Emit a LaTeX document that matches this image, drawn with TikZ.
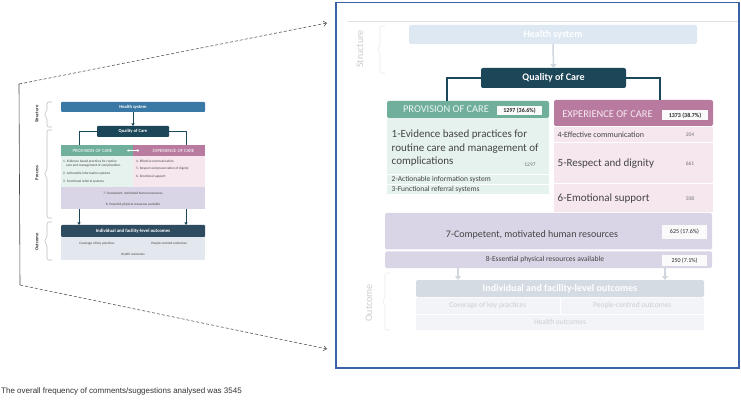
\documentclass[tikz,border=0pt]{standalone}
\usepackage{fontspec}
\setmainfont{Carlito}
\newfontfamily\notefont{Liberation Sans}
\usetikzlibrary{arrows.meta}
\definecolor{hsS}{HTML}{3A78A5}
\definecolor{qocD}{HTML}{1C4759}
\definecolor{provG}{HTML}{6FAF9B}
\definecolor{provL}{HTML}{E6F2EE}
\definecolor{expP}{HTML}{B97A9F}
\definecolor{expL}{HTML}{F6E7EF}
\definecolor{lav}{HTML}{D9D5E6}
\definecolor{outD}{HTML}{2F4B60}
\definecolor{outL}{HTML}{E3E7EE}
\definecolor{hsF}{HTML}{DDE8F2}
\definecolor{outF}{HTML}{D5DBE3}
\definecolor{rowF}{HTML}{F2F4F7}
\definecolor{txtF}{HTML}{C9CED6}
\definecolor{frameB}{HTML}{3B62A9}
\definecolor{txt}{HTML}{444444}
\newcommand\fsz[2]{\fontsize{#1}{#2}\selectfont}
\newcommand\bx[7]{\node[boxbase,#6,minimum width={(#4-#2)*1pt},minimum height={(#5-#3)*1pt}] (#1) at (#2,#3) {#7};}
\newcommand\brk[4]{\draw[#4,line width=0.6pt,rounded corners=2pt] ({#1+5},#2) -- (#1,#2) -- (#1,{(#2+#3)/2-3}) -- ({#1-3},{(#2+#3)/2}) -- (#1,{(#2+#3)/2+3}) -- (#1,#3) -- ({#1+5},#3);}
\begin{document}
\begin{tikzpicture}[x=1pt,y=-1pt,
  boxbase/.style={anchor=north west,inner sep=0pt,outer sep=0pt,align=center},
  zoomline/.style={densely dashed,draw=black!65,line width=0.6pt,-{Straight Barb[length=3pt,width=5pt]}},
  conS/.style={draw=qocD,line width=0.9pt},
  conB/.style={draw=qocD,line width=1.8pt},
  arrS/.style={draw=qocD,line width=0.9pt,-{Triangle[length=2.5pt,width=3pt]}},
  arrF/.style={draw=hsF!80!gray!90,line width=1.5pt,-{Triangle[length=4pt,width=6pt]}},
  cnt/.style={boxbase,fill=white!96!gray,text=black!85,font=\bfseries\fsz{6}{7}},
  smalltxt/.style={anchor=north west,inner sep=0pt,align=left,text=txt,font=\fsz{3.4}{4.3}},
]
\useasboundingbox (0,0) rectangle (741,403);
\fill[white] (0,0) rectangle (741,403);
% ---- zoom connectors
\coordinate (ftl) at (19,84);
\coordinate (fbl) at (20,285);
\coordinate (btl) at (327,23);
\coordinate (bbl) at (327,349);
\draw[black!70,line width=0.6pt] (ftl) -- (fbl);
\draw[zoomline] (ftl) -- (btl);
\draw[zoomline] (fbl) -- (bbl);
% ================= small diagram
\brk{47}{102}{127}{black!25}
\brk{47}{130}{218}{black!25}
\brk{47}{222}{260}{black!25}
\node[rotate=90,font=\bfseries\fsz{4.6}{5},text=black!80] (lS) at (37,114) {Structure};
\node[rotate=90,font=\bfseries\fsz{4.6}{5},text=black!80] (lP) at (37,173) {Process};
\node[rotate=90,font=\bfseries\fsz{4.6}{5},text=black!80] (lO) at (37,242) {Outcome};
\bx{shs}{61}{102}{205}{112}{fill=hsS,rounded corners=1pt,text=white,font=\bfseries\fsz{4.6}{5}}{Health system}
\bx{sqoc}{97}{126}{169}{137}{fill=qocD,rounded corners=1pt,text=white,font=\bfseries\fsz{4.6}{5}}{Quality of Care}
\bx{sprovh}{61}{145}{133}{156}{fill=provG,text=white,font=\fsz{4.8}{5}}{PROVISION OF CARE\hspace{9pt}}
\bx{sexph}{133}{145}{205}{156}{fill=expP,text=white,font=\fsz{4.8}{5}}{\hspace{9pt}EXPERIENCE OF CARE}
\draw[white,line width=0.5pt,{Straight Barb[length=1.2pt]}-{Straight Barb[length=1.2pt]}] ([xshift=-6pt]sprovh.east) -- ([xshift=6pt]sexph.west);
\bx{sprov}{61}{156}{133}{187}{fill=provL}{}
\bx{sexp}{133}{156}{205}{187}{fill=expL}{}
\node[smalltxt] (si1) at (63,159.5) {1. Evidence based practices for routine\\\hspace{3pt}care and management of complications};
\node[smalltxt] (si2) at (63,171.5) {2. Actionable information systems};
\node[smalltxt] (si3) at (63,179.5) {3. Functional referral systems};
\node[smalltxt] (si4) at (136,159.5) {4. Effective communication};
\node[smalltxt] (si5) at (136,167) {5. Respect and preservation of dignity};
\node[smalltxt] (si6) at (136,174.5) {6. Emotional support};
\bx{sr7}{61}{187.3}{205}{199}{fill=lav,text=txt,font=\fsz{3.4}{4}}{7. Competent, motivated human resources}
\bx{sr8}{61}{199.3}{205}{209}{fill=lav,text=txt,font=\fsz{3.4}{4}}{8. Essential physical resources available}
\bx{south}{61}{225}{205}{237}{fill=outD,rounded corners=1pt,text=white,font=\bfseries\fsz{4.8}{5}}{Individual and facility-level outcomes}
\draw[arrS] ([xshift=18pt]sr8.south west) -- ([xshift=18pt]south.north west);
\draw[arrS] ([xshift=-19pt]sr8.south east) -- ([xshift=-19pt]south.north east);
\bx{scov}{61}{237.3}{132.8}{249}{fill=outL,text=txt,font=\fsz{3.4}{4}}{Coverage of key practices}
\bx{speo}{133.2}{237.3}{205}{249}{fill=outL,text=txt,font=\fsz{3.4}{4}}{People-centred outcomes}
\bx{shealth}{61}{249.3}{205}{260}{fill=outL,text=txt,font=\fsz{3.4}{4}}{Health outcomes}
\draw[arrS] (shs.south) -- (sqoc.north);
\draw[conS] (sqoc.west) -| ([xshift=18pt]sprovh.north west);
\draw[conS] (sqoc.east) -| ([xshift=-19pt]sexph.north east);
% ================= big panel
\draw[black!12,line width=0.6pt] (348,21) -- (738,21);
\brk{380}{26}{73}{black!8}
\brk{385}{273}{330}{black!8}
\node[rotate=90,font=\fsz{10}{11},text=black!20] (bS) at (360,49) {Structure};
\node[rotate=90,font=\fsz{10}{11},text=black!20] (bO) at (369,303) {Outcome};
\bx{bhs}{409}{25}{697}{44}{fill=hsF,rounded corners=2pt,text=white,font=\bfseries\fsz{10}{11}}{Health system}
\bx{bqoc}{481}{68}{626}{88}{fill=qocD,rounded corners=2pt,text=white,font=\bfseries\fsz{10}{11}}{Quality of Care}
\draw[arrF] (bhs.south) -- (bqoc.north);
% provision
\bx{bprovh}{387}{101}{549}{118}{fill=provG,rounded corners=2pt}{}
\draw[conB] (bqoc.west) -| ([xshift=60pt]bprovh.north west);
\node[anchor=center,inner sep=0pt,text=white!88!provG,font=\fsz{10.4}{12}] (bprovt) at (446,109.5) {PROVISION OF CARE};
\bx{bpc}{497}{106.5}{542}{115.5}{cnt}{1297 (36.6\%)}
\bx{bp1}{387}{118}{549}{174}{fill=provL}{}
\node[anchor=north west,inner sep=0pt,align=left,text=txt,font=\fsz{11}{13.6}] (bp1t) at (391.5,129.8) {1-Evidence based practices for\\routine care and management of\\complications};
\node[inner sep=0pt,text=black!55,font=\fsz{5.5}{6}] (bp1n) at (530,165) {1297};
\bx{bp2}{387}{175.5}{549}{184.3}{fill=provL}{}
\node[anchor=west,inner sep=0pt,text=txt,font=\fsz{7.5}{8}] (bp2t) at (391.5,180) {2-Actionable information system};
\bx{bp3}{387}{185.3}{549}{194.5}{fill=provL}{}
\node[anchor=west,inner sep=0pt,text=txt,font=\fsz{7.5}{8}] (bp3t) at (391.5,190) {3-Functional referral systems};
% experience
\bx{bexph}{554}{100}{713}{126}{fill=expP,rounded corners=2pt}{}
\node[inner sep=0pt,text=white!85!expP,font=\fsz{10.4}{12}] (bexpt) at (607.5,114.5) {EXPERIENCE OF CARE};
\bx{bec}{662}{110.5}{708}{120}{cnt}{1373 (38.7\%)}
\draw[conB] (bqoc.east) -| ([xshift=-53pt]bexph.north east);
\bx{be4}{554}{127}{713}{142}{fill=expL}{}
\node[anchor=west,inner sep=0pt,text=txt,font=\fsz{8}{9}] (be4t) at (557.5,135) {4-Effective communication};
\node[inner sep=0pt,text=black!55,font=\fsz{5.5}{6}] (be4n) at (690,135) {204};
\bx{be5}{554}{143.5}{713}{183}{fill=expL}{}
\node[anchor=west,inner sep=0pt,text=txt,font=\fsz{11}{12}] (be5t) at (557.5,163.5) {5-Respect and dignity};
\node[inner sep=0pt,text=black!55,font=\fsz{5.5}{6}] (be5n) at (690,163.5) {661};
\bx{be6}{554}{184.5}{713}{212}{fill=expL}{}
\node[anchor=west,inner sep=0pt,text=txt,font=\fsz{11}{12}] (be6t) at (557.5,198.5) {6-Emotional support};
\node[inner sep=0pt,text=black!55,font=\fsz{5.5}{6}] (be6n) at (690,198.5) {508};
% rows 7 & 8
\bx{br7}{385}{213}{712}{249.5}{fill=lav,rounded corners=1.5pt}{}
\node[inner sep=0pt,text=txt,font=\fsz{10}{11}] (br7t) at (532,235) {7-Competent, motivated human resources};
\bx{br7c}{662}{225}{707}{239}{cnt,font=\fsz{6}{7}}{625 (17.6\%)}
\bx{br8}{385}{251.5}{712}{268}{fill=lav,rounded corners=1.5pt}{}
\node[inner sep=0pt,text=txt,font=\fsz{7.5}{8}] (br8t) at (545,260) {8-Essential physical resources available};
\bx{br8c}{662}{255}{707}{266}{cnt,font=\fsz{6}{7}}{250 (7.1\%)}
% outcomes (faded)
\bx{bouth}{416}{280}{704}{297}{fill=outF,rounded corners=2pt,text=white,font=\bfseries\fsz{10}{11}}{Individual and facility-level outcomes}
\draw[arrF] ([xshift=73pt]br8.south west) -- ([xshift=42pt]bouth.north west);
\draw[arrF] ([xshift=-47pt]br8.south east) -- ([xshift=-39pt]bouth.north east);
\bx{bcov}{416}{297.5}{559.5}{314}{fill=rowF,text=txtF,font=\fsz{7.5}{8}}{Coverage of key practices}
\bx{bpeo}{560.5}{297.5}{704}{314}{fill=rowF,text=txtF,font=\fsz{7.5}{8}}{People-centred outcomes}
\bx{bhealth}{416}{314.5}{704}{330}{fill=rowF,text=txtF,font=\fsz{7.5}{8}}{Health outcomes}
% frame
\draw[frameB,line width=1.5pt] (336,2.5) rectangle (739,368);
% note
\node[anchor=base west,inner sep=0pt,text=black!80,font=\notefont\fsz{8}{9}] (note) at (1,393) {The overall frequency of comments/suggestions analysed was 3545};
\end{tikzpicture}
\end{document}
